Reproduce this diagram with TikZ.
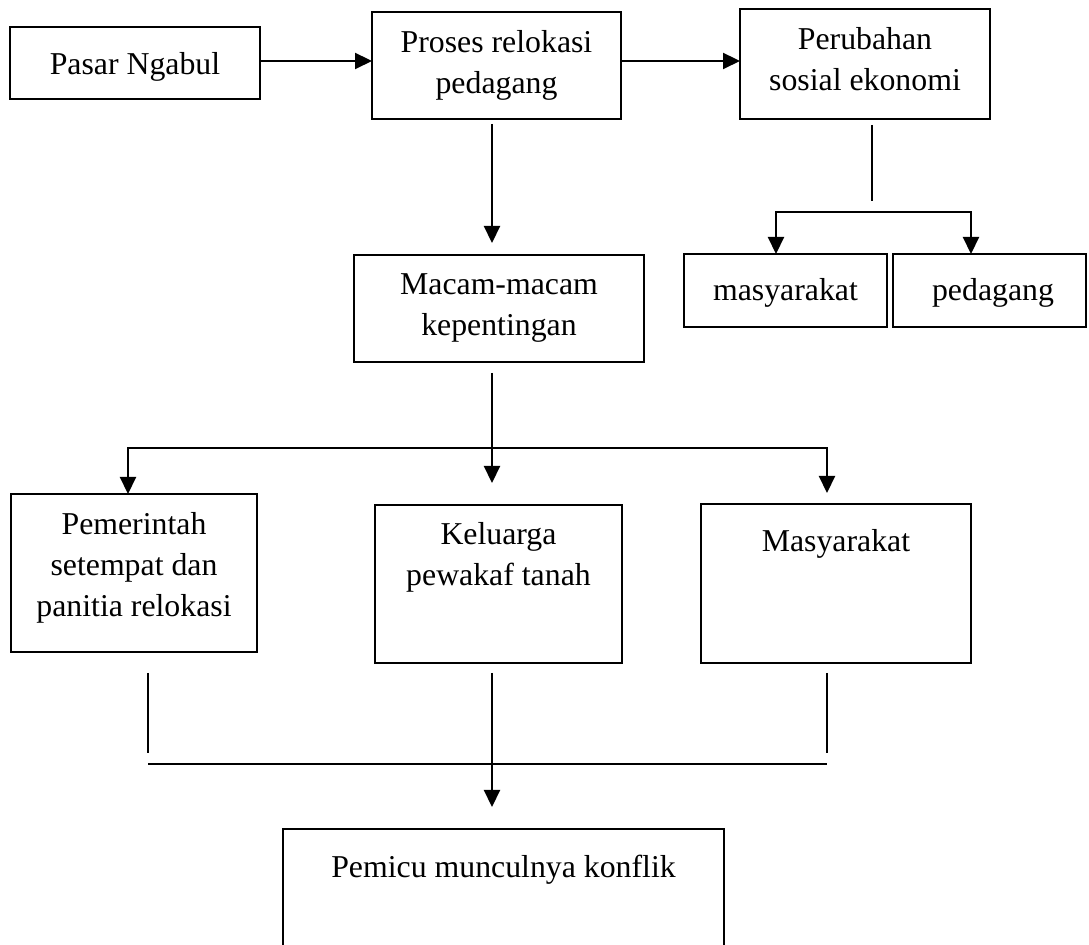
\documentclass[tikz,border=0pt]{standalone}
\usepackage{fontspec}
\setmainfont{Liberation Serif}
\usetikzlibrary{arrows.meta}
\newcommand\dfont{\fontsize{15.9pt}{20.5pt}\selectfont}
\begin{document}
\begin{tikzpicture}[x=0.5pt,y=-0.5pt,
  box/.style={draw, line width=1.1pt, rectangle, inner sep=0pt, outer sep=0pt},
  txt/.style={font=\dfont, align=center, inner sep=0pt, anchor=north, yshift=-9pt, execute at begin node=\strut},
  ln/.style={line width=1.1pt},
  arr/.style={line width=1.1pt, -{Triangle[length=8.5pt,width=8pt]}},
  arrb/.style={line width=1.1pt, {Triangle[length=8.5pt,width=8pt]}-{Triangle[length=8.5pt,width=8pt]}}]
\useasboundingbox (0,0) rectangle (1089,945);
\fill[white] (0,0) rectangle (1089,945);
\clip (0,0) rectangle (1089,945);

% boxes
\node[box, minimum width=125pt, minimum height=36pt, label={[txt]north:{Pasar Ngabul}}] (pasar) at (135,63) {};
\node[box, minimum width=124.5pt, minimum height=53.5pt, label={[txt]north:{Proses relokasi\\pedagang}}] (proses) at (496.5,65.5) {};
\node[box, minimum width=125pt, minimum height=55pt, label={[txt]north:{Perubahan\\sosial ekonomi}}] (perubahan) at (865,64) {};
\node[box, minimum width=145pt, minimum height=53.5pt, label={[txt]north:{Macam-macam\\kepentingan}}] (macam) at (499,308.5) {};
\node[box, minimum width=101.5pt, minimum height=36.5pt, label={[txt, yshift=0.5pt]north:{masyarakat}}] (masyA) at (785.5,290.5) {};
\node[box, minimum width=96.5pt, minimum height=36.5pt, label={[txt, yshift=0.5pt, xshift=1.75pt]north:{pedagang}}] (pedagang) at (989.5,290.5) {};
\node[box, minimum width=123pt, minimum height=79pt, label={[txt]north:{Pemerintah\\setempat dan\\panitia relokasi}}] (pemerintah) at (134,573) {};
\node[box, minimum width=123.5pt, minimum height=79pt, label={[txt, yshift=0.5pt]north:{Keluarga\\pewakaf tanah}}] (keluarga) at (498.5,584) {};
\node[box, minimum width=135pt, minimum height=79.5pt, label={[txt]north:{Masyarakat}}] (masyB) at (836,583.5) {};
\node[box, minimum width=220.5pt, minimum height=65.5pt, label={[txt, yshift=-0.5pt]north:{Pemicu munculnya konflik}}] (pemicu) at (503.5,894.5) {};

% helper coordinates
\coordinate (r1) at (0,61);
\coordinate (mx) at (492,0);
\coordinate (px) at (872,0);
\coordinate (b1) at (0,212);
\coordinate (ax1) at (776,0);
\coordinate (ax2) at (971,0);
\coordinate (b2) at (0,448);
\coordinate (ax3) at (128,0);
\coordinate (ax4) at (827,0);
\coordinate (lx) at (148,0);
\coordinate (b3) at (0,764);

% connectors
\draw[arr] (pasar.east |- r1) -- (proses.west |- r1);
\draw[arr] (proses.east |- r1) -- (perubahan.west |- r1);
\draw[arr, shorten <=2.5pt, shorten >=6pt] (proses.south -| mx) -- (macam.north -| mx);
\draw[ln, shorten <=3pt, shorten >=5.5pt] (perubahan.south -| px) -- (px |- b1);
\draw[arrb] (masyA.north -| ax1) -- (ax1 |- b1) -- (ax2 |- b1) -- (pedagang.north -| ax2);
\draw[arr, shorten <=5.5pt, shorten >=11pt] (macam.south -| mx) -- (keluarga.north -| mx);
\draw[arrb, shorten >=5.5pt] (pemerintah.north -| ax3) -- (ax3 |- b2) -- (ax4 |- b2) -- (masyB.north -| ax4);
\draw[ln, shorten <=10.5pt, shorten >=5.5pt] (pemerintah.south -| lx) -- (lx |- b3);
\draw[ln, shorten <=5pt, shorten >=5.5pt] (masyB.south -| ax4) -- (ax4 |- b3);
\draw[ln] (lx |- b3) -- (ax4 |- b3);
\draw[arr, shorten <=5pt, shorten >=11pt] (keluarga.south -| mx) -- (pemicu.north -| mx);
\end{tikzpicture}
\end{document}
